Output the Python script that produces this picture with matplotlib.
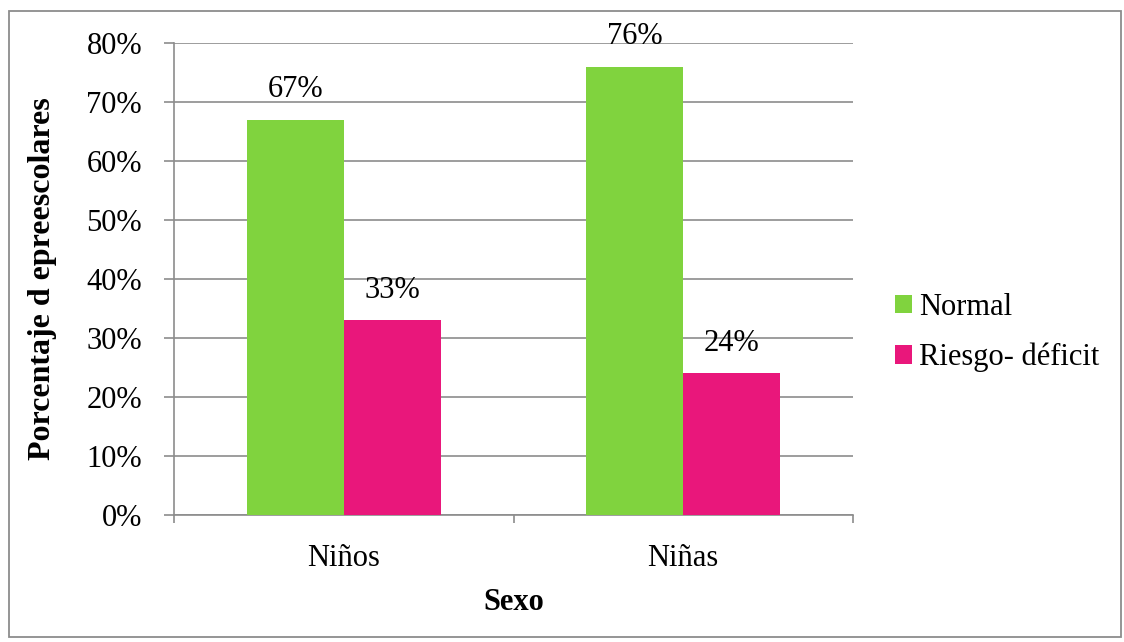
import matplotlib
matplotlib.use("Agg")
import matplotlib.pyplot as plt
from matplotlib.patches import Rectangle
from matplotlib.ticker import FuncFormatter

categories = ["Niños", "Niñas"]
series_names = ["Normal", "Riesgo- déficit"]
normal = [67, 76]
riesgo = [33, 24]
yticks = [0, 10, 20, 30, 40, 50, 60, 70, 80]

colors = ["#80D33E", "#E9177B"]
grid_c = "#8C8C8C"
FS = 22

plt.rcParams['font.family'] = ['Liberation Serif', 'DejaVu Serif']

fig = plt.figure(figsize=(11.24, 6.42), dpi=100)
ax = fig.add_axes([174/1124, 127/642, 679/1124, 472/642])

# outer border
fig.patches.append(Rectangle((9/1124, 5/642), 1112/1124, 626/642, transform=fig.transFigure,
                             fill=False, edgecolor="#8C8C8C", linewidth=1.3))

w = 0.286
centers = [i + 0.5 for i in range(len(categories))]
series = [normal, riesgo]
for k, (vals, name, c) in enumerate(zip(series, series_names, colors)):
    xs = [cx + (k - 0.5) * w for cx in centers]
    ax.bar(xs, vals, width=w, color=c, label=name, zorder=3)
    for x, v in zip(xs, vals):
        ax.annotate(f"{v}%", (x, v), xytext=(0, 11), textcoords="offset points",
                    ha="center", va="bottom", fontsize=FS, zorder=5)

ax.set_xlim(0, len(categories))
ax.set_ylim(0, 80)
ax.set_yticks(yticks)
ax.yaxis.set_major_formatter(FuncFormatter(lambda v, p: f"{int(v)}%"))
ax.yaxis.grid(True, color=grid_c, linewidth=1.2, zorder=0)
ax.set_axisbelow(True)

ax.set_xticks([0, 1, 2])
ax.set_xticklabels(["", "", ""])
ax.set_xticks(centers, minor=True)
ax.set_xticklabels(categories, minor=True)
ax.tick_params(axis="x", which="major", length=6, color=grid_c, width=1.2)
ax.tick_params(axis="x", which="minor", length=0, pad=21, labelsize=FS)
ax.tick_params(axis="y", length=7, color=grid_c, width=1.2, pad=16, labelsize=FS)

for s in ["top", "right"]:
    ax.spines[s].set_visible(False)
for s in ["left", "bottom"]:
    ax.spines[s].set_color(grid_c)
    ax.spines[s].set_linewidth(1.2)

ax.set_xlabel("Sexo", fontsize=FS, fontweight="bold", labelpad=11)
ax.set_ylabel("Porcentaje d epreescolares", fontsize=23, fontweight="bold", labelpad=21)

fig.legend(loc="center left", bbox_to_anchor=(895/1124, 1 - 332.5/642), frameon=False,
           fontsize=FS, handlelength=0.55, handleheight=0.55, handletextpad=0.25,
           labelspacing=0.7, borderaxespad=0, borderpad=0)

fig.savefig("out.png", dpi=100)
